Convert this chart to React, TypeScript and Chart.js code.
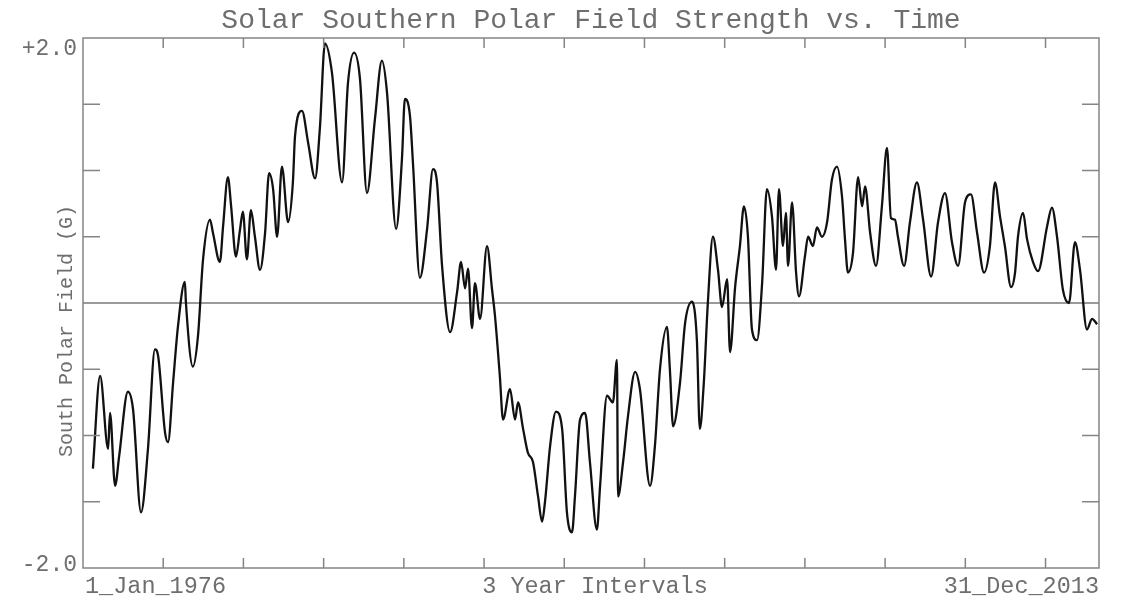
import React, { useEffect, useRef } from "react";
import { Chart, registerables } from "chart.js";

Chart.register(...registerables);

const titleText = "Solar Southern Polar Field Strength vs. Time";
const yAxisTitle = "South Polar Field (G)";
const yEndLabels = ["+2.0", "-2.0"];
const xLabels = ["1_Jan_1976", "3 Year Intervals", "31_Dec_2013"];
const xTickYears = [1979, 1982, 1985, 1988, 1991, 1994, 1997, 2000, 2003, 2006, 2009, 2012];
const yTickValues = [-1.5, -1, -0.5, 0.5, 1, 1.5];

const years = [
  1976.37, 1976.64, 1976.94, 1977.01, 1977.2, 1977.35, 1977.68, 1977.87, 1978.17, 1978.43,
  1978.69, 1978.81, 1979.07, 1979.18, 1979.37, 1979.55, 1979.81, 1979.85, 1980.11, 1980.3,
  1980.49, 1980.75, 1980.86, 1981.12, 1981.24, 1981.42, 1981.54, 1981.72, 1981.87, 1981.98,
  1982.13, 1982.28, 1982.43, 1982.62, 1982.81, 1982.96, 1983.11, 1983.26, 1983.44, 1983.67,
  1983.85,
  1983.93, 1984.19, 1984.42, 1984.68, 1984.86, 1985.05, 1985.31, 1985.69, 1985.91, 1986.14,
  1986.36, 1986.62, 1986.92, 1987.18, 1987.37, 1987.71, 1987.93, 1988.04, 1988.23, 1988.34,
  1988.6, 1988.87, 1989.09, 1989.24, 1989.43, 1989.73, 1989.99, 1990.14, 1990.29, 1990.4,
  1990.55, 1990.66, 1990.85, 1991.11,
  1991.3, 1991.41, 1991.59, 1991.71, 1991.97, 1992.16, 1992.27, 1992.46, 1992.64, 1992.83,
  1993.02, 1993.17, 1993.28, 1993.47, 1993.69, 1993.92, 1994.1, 1994.29, 1994.4, 1994.59,
  1994.78, 1994.96, 1995.22, 1995.34, 1995.6, 1995.82, 1995.97, 1996.01, 1996.2, 1996.38,
  1996.65, 1996.83, 1997.21, 1997.39, 1997.58, 1997.84, 1997.95, 1998.07, 1998.33, 1998.52,
  1998.78, 1998.96, 1999.07, 1999.22,
  1999.37, 1999.56, 1999.75, 1999.9, 2000.09, 2000.2, 2000.39, 2000.57, 2000.72, 2000.87,
  2001.02, 2001.21, 2001.4, 2001.58, 2001.77, 2001.92, 2002.03, 2002.18, 2002.29, 2002.37,
  2002.52, 2002.67, 2002.78, 2003.0, 2003.12, 2003.3, 2003.45, 2003.64, 2003.83, 2004.01,
  2004.2, 2004.39, 2004.5, 2004.61, 2004.8, 2004.99, 2005.14, 2005.25, 2005.44, 2005.66,
  2005.88, 2006.07, 2006.22, 2006.37, 2006.48, 2006.71, 2006.93, 2007.19, 2007.42, 2007.72,
  2007.98, 2008.24, 2008.5, 2008.73, 2008.99, 2009.21, 2009.44, 2009.7, 2009.92, 2010.11,
  2010.3, 2010.48, 2010.71, 2010.86, 2010.97, 2011.16, 2011.31, 2011.53, 2011.72, 2012.06,
  2012.24, 2012.43, 2012.65, 2012.88, 2013.1, 2013.29, 2013.55, 2013.74, 2013.93,
];

const field = [
  -1.25, -0.55, -1.1, -0.83, -1.38, -1.16, -0.67, -0.8, -1.58, -1.1,
  -0.35, -0.4, -0.98, -1.05, -0.6, -0.18, 0.16, 0.0, -0.48, -0.25,
  0.33, 0.63, 0.53, 0.31, 0.58, 0.95, 0.73, 0.35, 0.55, 0.69,
  0.33, 0.7, 0.5, 0.25, 0.53, 0.98, 0.86, 0.5, 1.03, 0.61,
  0.91,
  1.26, 1.45, 1.21, 0.94, 1.32, 1.96, 1.74, 0.91, 1.66, 1.89,
  1.69, 0.83, 1.39, 1.83, 1.59, 0.56, 1.09, 1.54, 1.41, 1.06,
  0.19, 0.56, 1.01, 0.91, 0.28, -0.22, 0.08, 0.31, 0.11, 0.26,
  -0.19, 0.15, -0.12, 0.43,
  0.1, -0.1, -0.55, -0.88, -0.65, -0.88, -0.75, -0.95, -1.13, -1.2,
  -1.46, -1.65, -1.5, -1.08, -0.82, -0.95, -1.58, -1.73, -1.46, -0.88,
  -0.83, -1.2, -1.71, -1.38, -0.7, -0.75, -0.43, -1.46, -1.2, -0.86,
  -0.52, -0.65, -1.38, -1.08, -0.5, -0.18, -0.5, -0.93, -0.6, -0.15,
  0.01, -0.28, -0.95, -0.6,
  0.0, 0.5, 0.25, -0.03, 0.18, -0.37, 0.12, 0.43, 0.73, 0.5,
  -0.2, -0.28, 0.15, 0.86, 0.65, 0.25, 0.86, 0.43, 0.68, 0.28,
  0.76, 0.23, 0.05, 0.35, 0.5, 0.43, 0.57, 0.5, 0.61, 0.93,
  1.03, 0.8, 0.48, 0.23, 0.38, 0.95, 0.73, 0.88, 0.53, 0.28,
  0.73, 1.17, 0.64, 0.63, 0.5, 0.28, 0.61, 0.91, 0.63, 0.2,
  0.61, 0.83, 0.46, 0.28, 0.76, 0.82, 0.53, 0.23, 0.43, 0.91,
  0.65, 0.43, 0.12, 0.23, 0.5, 0.68, 0.48, 0.31, 0.24, 0.58,
  0.72, 0.5, 0.1, 0.0, 0.46, 0.25, -0.2, -0.12, -0.16,
];

const FONT = '"Liberation Mono", "DejaVu Sans Mono", monospace';
const AXIS_COLOR = "#858585";
const TEXT_COLOR = "#6e6e6e";

const idlPlugin = {
  id: "idlFrame",
  beforeDraw(chart: any) {
    const ctx = chart.ctx;
    ctx.save();
    ctx.fillStyle = "#ffffff";
    ctx.fillRect(0, 0, chart.width, chart.height);
    ctx.restore();
  },
  beforeDatasetsDraw(chart: any) {
    const { ctx, chartArea, scales } = chart;
    const y0 = scales.y.getPixelForValue(0);
    ctx.save();
    ctx.strokeStyle = "#9a9a9a";
    ctx.lineWidth = 2;
    ctx.beginPath();
    ctx.moveTo(chartArea.left, y0);
    ctx.lineTo(chartArea.right, y0);
    ctx.stroke();
    ctx.restore();
  },
  afterDraw(chart: any) {
    const { ctx, chartArea, scales } = chart;
    const { left, right, top, bottom } = chartArea;
    const xs = scales.x;
    const ys = scales.y;
    ctx.save();
    ctx.strokeStyle = AXIS_COLOR;
    ctx.lineWidth = 1.5;
    ctx.strokeRect(left, top, right - left, bottom - top);

    ctx.beginPath();
    for (const v of yTickValues) {
      const py = ys.getPixelForValue(v);
      ctx.moveTo(left, py);
      ctx.lineTo(left + 17, py);
      ctx.moveTo(right, py);
      ctx.lineTo(right - 17, py);
    }
    for (const yr of xTickYears) {
      const px = xs.getPixelForValue(yr);
      ctx.moveTo(px, bottom);
      ctx.lineTo(px, bottom - 10);
      ctx.moveTo(px, top);
      ctx.lineTo(px, top + 10);
    }
    ctx.stroke();

    ctx.fillStyle = TEXT_COLOR;
    ctx.textBaseline = "alphabetic";

    ctx.font = `28px ${FONT}`;
    ctx.textAlign = "center";
    ctx.fillText(titleText, (left + right) / 2, 28);

    ctx.font = `23px ${FONT}`;
    ctx.textAlign = "right";
    ctx.fillText(yEndLabels[0], left - 6, ys.getPixelForValue(2) + 17);
    ctx.fillText(yEndLabels[1], left - 6, ys.getPixelForValue(-2) + 3);

    ctx.font = `23.5px ${FONT}`;
    ctx.textAlign = "left";
    ctx.fillText(xLabels[0], xs.getPixelForValue(1976) + 2, bottom + 25);
    ctx.textAlign = "center";
    ctx.fillText(xLabels[1], (left + right) / 2 + 4, bottom + 25);
    ctx.textAlign = "right";
    ctx.fillText(xLabels[2], xs.getPixelForValue(2014), bottom + 25);

    ctx.font = `20px ${FONT}`;
    ctx.translate(67, (top + bottom) / 2 + 28);
    ctx.rotate(-Math.PI / 2);
    ctx.textAlign = "center";
    ctx.textBaseline = "middle";
    ctx.fillText(yAxisTitle, 0, 0);
    ctx.restore();
  },
};

export default function App() {
  const canvasRef = useRef<HTMLCanvasElement | null>(null);

  useEffect(() => {
    if (!canvasRef.current) return;
    const points = years.map((yr, i) => ({ x: yr, y: field[i] }));
    const chart = new Chart(canvasRef.current, {
      type: "line",
      data: {
        datasets: [
          {
            data: points,
            borderColor: "#111111",
            borderWidth: 2.3,
            pointRadius: 0,
            cubicInterpolationMode: "monotone",
            fill: false,
          },
        ],
      },
      options: {
        animation: false,
        responsive: false,
        devicePixelRatio: 1,
        layout: { padding: { left: 83, top: 38, right: 26, bottom: 32 } },
        plugins: { legend: { display: false }, tooltip: { enabled: false }, title: { display: false } },
        scales: {
          x: { type: "linear", min: 1976, max: 2014, display: false },
          y: { type: "linear", min: -2, max: 2, display: false },
        },
      },
      plugins: [idlPlugin],
    });
    return () => chart.destroy();
  }, []);

  return (
    <div style={{ position: "absolute", left: 0, top: 0, width: 1125, height: 600, background: "#fff" }}>
      <canvas ref={canvasRef} width={1125} height={600} style={{ display: "block" }} />
    </div>
  );
}
